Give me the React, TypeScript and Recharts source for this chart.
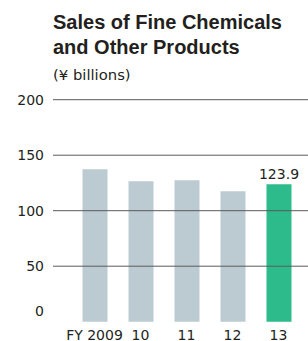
import React from 'react';
import { BarChart, Bar, XAxis, YAxis, ReferenceLine, Cell, LabelList } from 'recharts';

const categories = ['FY 2009', '10', '11', '12', '13'];
const sales = [137.4, 126.6, 127.5, 117.6, 123.9];
const highlightIndex = 4;
const yTicks = [0, 50, 100, 150, 200];
const gridValues = [50, 100, 150, 200];

const TEXT = '#231f20';
const GRAY = '#bccbd2';
const GREEN = '#2dbb8b';
const NUM_FONT = '"DejaVu Sans", sans-serif';

const data = categories.map((c, i) => ({
  name: c,
  value: sales[i],
  label: i === highlightIndex ? sales[i].toFixed(1) : '',
}));

const YTick = (props: any) => {
  const { x, y, payload } = props;
  const off = payload.value === 0 ? -10.7 : 0;
  return (
    <text x={x} y={y + off} dy="0.36em" textAnchor="end" fill={TEXT} fontSize={14} fontFamily={NUM_FONT}>
      {payload.value}
    </text>
  );
};

export default function App() {
  return (
    <div style={{ position: 'absolute', left: 0, top: 0, width: 308, height: 341, background: '#fff' }}>
      <div
        style={{
          position: 'absolute',
          left: 53,
          top: 9.9,
          fontFamily: '"Liberation Sans", Arial, sans-serif',
          fontWeight: 700,
          fontSize: 20,
          lineHeight: '25px',
          color: TEXT,
          whiteSpace: 'nowrap',
        }}
      >
        Sales of Fine Chemicals
        <br />
        and Other Products
      </div>
      <div
        style={{
          position: 'absolute',
          left: 53,
          top: 64.6,
          fontFamily: NUM_FONT,
          fontSize: 14.8,
          lineHeight: '20px',
          color: TEXT,
          whiteSpace: 'nowrap',
        }}
      >
        (¥ billions)
      </div>
      <BarChart
        width={308}
        height={341}
        data={data}
        margin={{ top: 99.7, right: 0, bottom: 0, left: 0 }}
        style={{ position: 'absolute', left: 0, top: 0 }}
      >
        <XAxis
          dataKey="name"
          axisLine={false}
          tickLine={false}
          height={19.3}
          padding={{ left: 18.5, right: 6.5 }}
          interval={0}
          tick={{ fill: TEXT, fontSize: 14, fontFamily: NUM_FONT }}
        />
        <YAxis
          width={53}
          domain={[0, 200]}
          ticks={yTicks}
          axisLine={false}
          tickLine={false}
          tickMargin={3}
          interval={0}
          tick={<YTick />}
        />
        {gridValues.map((v) => (
          <ReferenceLine key={v} y={v} stroke="#5a5a5a" strokeWidth={1} />
        ))}
        <Bar dataKey="value" barSize={25} isAnimationActive={false}>
          {data.map((d, i) => (
            <Cell key={d.name} fill={i === highlightIndex ? GREEN : GRAY} />
          ))}
          <LabelList dataKey="label" position="top" offset={5} fill={TEXT} fontSize={14} fontFamily={NUM_FONT} />
        </Bar>
      </BarChart>
    </div>
  );
}
